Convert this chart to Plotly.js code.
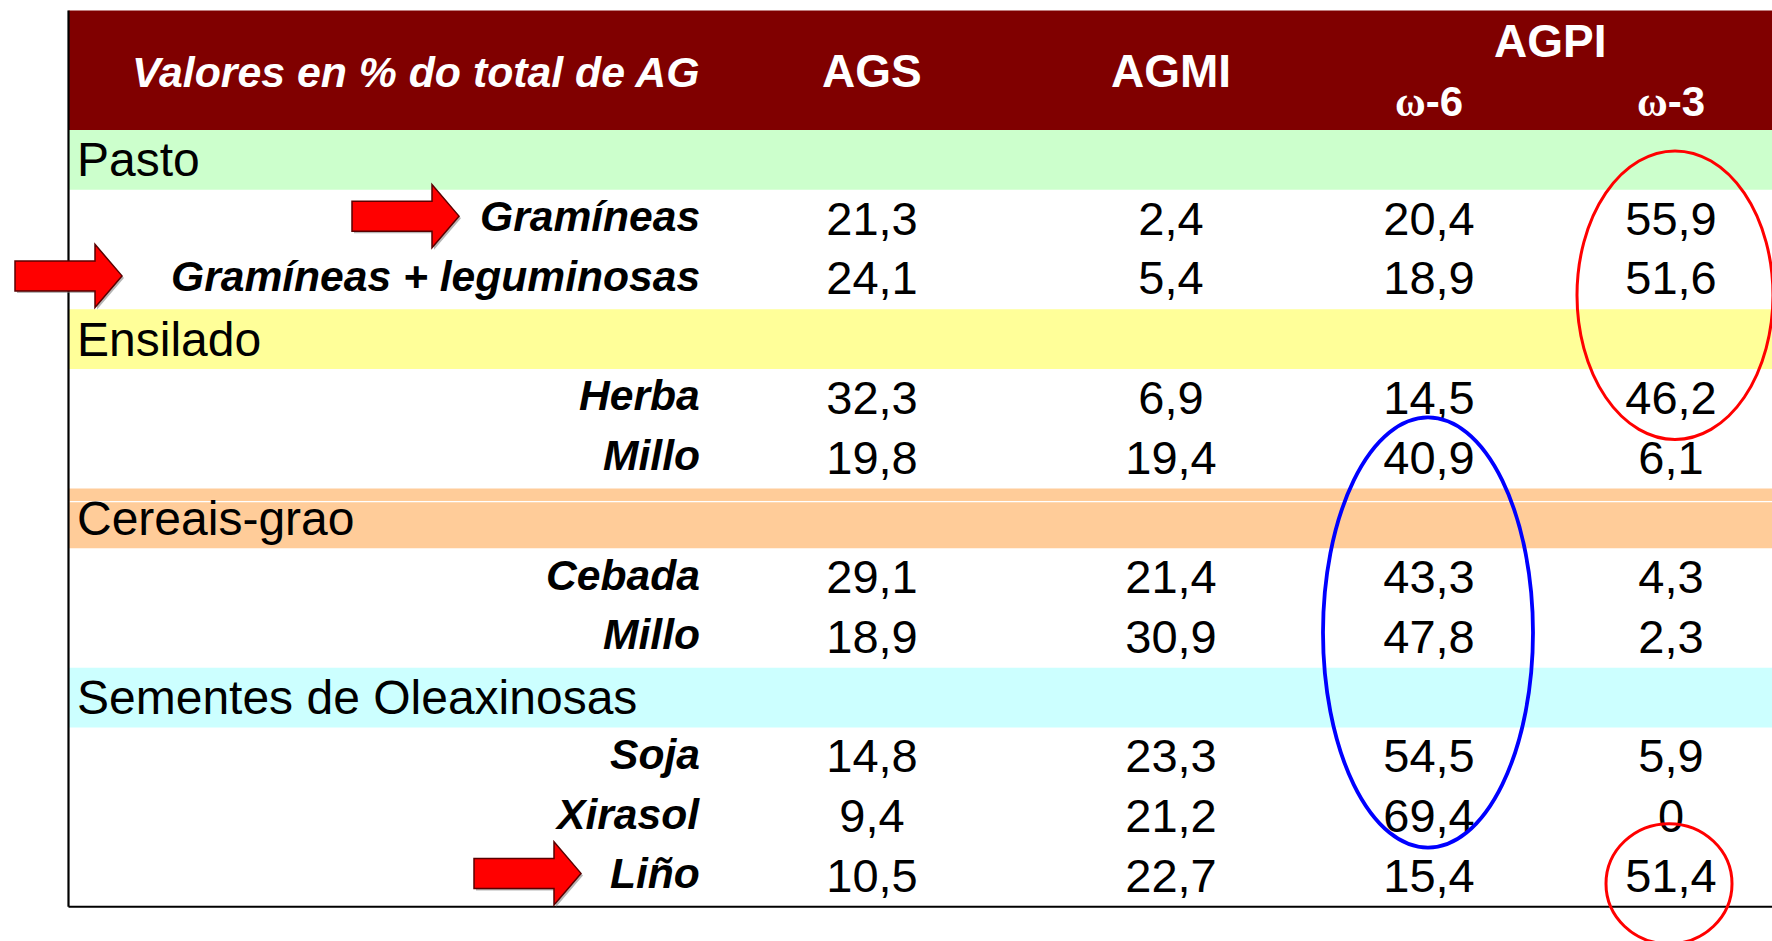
<!DOCTYPE html>
<html>
<head>
<meta charset="utf-8">
<script src="https://cdn.plot.ly/plotly-3.0.1.min.js"></script>
<style>html,body{margin:0;padding:0;background:#fff;overflow:hidden}#chart{width:1772px;height:941px}</style>
</head>
<body>
<div id="chart"></div>
<script>
// ---- data ----
const groups = ["Pasto", "Ensilado", "Cereais-grao", "Sementes de Oleaxinosas"];
const groupItems = [
  ["Gramíneas", "Gramíneas + leguminosas"],
  ["Herba", "Millo"],
  ["Cebada", "Millo"],
  ["Soja", "Xirasol", "Liño"]
];
const headerLabel = "Valores en % do total de AG";
const columns = ["AGS", "AGMI", "ω-6", "ω-3"];
const superHeader = "AGPI";
const ags  = [21.3, 24.1, 32.3, 19.8, 29.1, 18.9, 14.8, 9.4, 10.5];
const agmi = [2.4, 5.4, 6.9, 19.4, 21.4, 30.9, 23.3, 21.2, 22.7];
const w6   = [20.4, 18.9, 14.5, 40.9, 43.3, 47.8, 54.5, 69.4, 15.4];
const w3   = [55.9, 51.6, 46.2, 6.1, 4.3, 2.3, 5.9, 0, 51.4];
const arrowItems = ["Gramíneas", "Gramíneas + leguminosas", "Liño"];

// ---- layout / style constants ----
const W = 1772, H = 941;
const HEADER_TOP = 10.6, BODY_TOP = 130, ROW_H = 59.75;
const LEFT = 68.5;
const LABEL_RIGHT = 701.5;
const GROUP_LEFT = 75;
const COL_X = [872, 1171, 1429, 1671];
const groupColors = ["#CCFFCC", "#FFFF99", "#FFCC99", "#CCFFFF"];
const HEADER_COLOR = "#800000";
const FONT = "Liberation Sans, Arial, sans-serif";
const LABEL_DY = -3.5, VALUE_DY = 3.2;

const fmt = v => v === 0 ? "0" : v.toFixed(1).replace(".", ",");
const rowCenter = r => BODY_TOP + (r + 0.5) * ROW_H;
const omega = s => s.replace("ω", '<span style="font-family:Liberation Serif, serif">ω</span>');

// build rows
const rows = [];
let k = 0;
groups.forEach((g, gi) => {
  rows.push({type: "group", name: g, color: groupColors[gi]});
  groupItems[gi].forEach(it => { rows.push({type: "item", name: it, idx: k}); k++; });
});
const series = [ags, agmi, w6, w3];

const shapes = [];
const annotations = [];

// header band
shapes.push({type: "rect", xref: "x", yref: "y", x0: LEFT, x1: W + 5, y0: HEADER_TOP, y1: BODY_TOP,
  fillcolor: HEADER_COLOR, line: {width: 0}, layer: "below"});

// group bands
rows.forEach((r, i) => {
  if (r.type === "group") {
    shapes.push({type: "rect", xref: "x", yref: "y", x0: LEFT, x1: W + 5,
      y0: BODY_TOP + i * ROW_H, y1: BODY_TOP + (i + 1) * ROW_H,
      fillcolor: r.color, line: {width: 0}, layer: "below"});
  }
});
// thin white line inside the Cereais-grao band
const cerIdx = rows.findIndex(r => r.name === "Cereais-grao");
shapes.push({type: "line", xref: "x", yref: "y", x0: LEFT + 1, x1: W + 5,
  y0: BODY_TOP + (cerIdx + 0.22) * ROW_H, y1: BODY_TOP + (cerIdx + 0.22) * ROW_H,
  line: {color: "#ffffff", width: 1.2}, layer: "below"});

// table borders (left + bottom)
const bottom = BODY_TOP + rows.length * ROW_H;
shapes.push({type: "line", xref: "x", yref: "y", x0: LEFT, x1: LEFT, y0: HEADER_TOP, y1: bottom,
  line: {color: "#000", width: 2.2}});
shapes.push({type: "line", xref: "x", yref: "y", x0: LEFT, x1: W + 5, y0: bottom, y1: bottom,
  line: {color: "#000", width: 2.2}});

// header texts
annotations.push({x: LABEL_RIGHT, y: 72, xref: "x", yref: "y", xanchor: "right", yanchor: "middle",
  text: "<b><i>" + headerLabel + "</i></b>", showarrow: false, font: {family: FONT, size: 42.8, color: "#fff"}});
[0, 1].forEach(c => annotations.push({x: COL_X[c], y: 71, xref: "x", yref: "y", xanchor: "center", yanchor: "middle",
  text: "<b>" + columns[c] + "</b>", showarrow: false, font: {family: FONT, size: 46, color: "#fff"}}));
annotations.push({x: (COL_X[2] + COL_X[3]) / 2, y: 41, xref: "x", yref: "y", xanchor: "center", yanchor: "middle",
  text: "<b>" + superHeader + "</b>", showarrow: false, font: {family: FONT, size: 46, color: "#fff"}});
[2, 3].forEach(c => annotations.push({x: COL_X[c], y: 101, xref: "x", yref: "y", xanchor: "center", yanchor: "middle",
  text: "<b>" + omega(columns[c]) + "</b>", showarrow: false, font: {family: FONT, size: 42, color: "#fff"}}));

// row labels
rows.forEach((r, i) => {
  if (r.type === "group") {
    annotations.push({x: GROUP_LEFT, y: rowCenter(i), xref: "x", yref: "y", xanchor: "left", yanchor: "middle",
      text: r.name, showarrow: false, font: {family: FONT, size: 48, color: "#000"}});
  } else {
    annotations.push({x: LABEL_RIGHT, y: rowCenter(i) + LABEL_DY, xref: "x", yref: "y", xanchor: "right", yanchor: "middle",
      text: "<b><i>" + r.name + "</i></b>", showarrow: false, font: {family: FONT, size: 42.6, color: "#000"}});
  }
});

// value traces
const traces = series.map((s, c) => {
  const xs = [], ys = [], ts = [];
  rows.forEach((r, i) => {
    if (r.type === "item") { xs.push(COL_X[c]); ys.push(rowCenter(i) + VALUE_DY); ts.push(fmt(s[r.idx])); }
  });
  return {type: "scatter", mode: "text", x: xs, y: ys, text: ts, textposition: "middle center",
    textfont: {family: FONT, size: 47, color: "#000"}, hoverinfo: "skip", showlegend: false, cliponaxis: false};
});

// arrows
function arrowPath(tipX, cy) {
  const headLen = 27, shaftLen = 80, sh = 15, hh = 31.5;
  const bx = tipX - headLen, sx = bx - shaftLen;
  return `M${sx},${cy - sh} L${bx},${cy - sh} L${bx},${cy - hh} L${tipX},${cy} L${bx},${cy + hh} L${bx},${cy + sh} L${sx},${cy + sh} Z`;
}
const arrowTips = {"Gramíneas": 459, "Gramíneas + leguminosas": 122, "Liño": 581};
rows.forEach((r, i) => {
  if (r.type === "item" && arrowItems.includes(r.name)) {
    const cy = rowCenter(i) - 3.5;
    const tx = arrowTips[r.name];
    shapes.push({type: "path", xref: "x", yref: "y", path: arrowPath(tx + 2, cy + 2),
      fillcolor: "rgba(120,120,120,0.55)", line: {width: 0}});
    shapes.push({type: "path", xref: "x", yref: "y", path: arrowPath(tx, cy),
      fillcolor: "#FF0000", line: {color: "#5a0000", width: 1.5}});
  }
});

// ellipses (highlights)
function ellipse(rFrom, rTo, padTop, padBot, cx, rx, color, w) {
  const y0 = BODY_TOP + (rFrom + padTop) * ROW_H, y1 = BODY_TOP + (rTo + 1 + padBot) * ROW_H;
  shapes.push({type: "circle", xref: "x", yref: "y", x0: cx - rx, x1: cx + rx, y0: y0, y1: y1,
    line: {color: color, width: w}, fillcolor: "rgba(0,0,0,0)"});
}
ellipse(1, 4, -0.65, 0.18, COL_X[3] + 4, 98, "#FF0000", 3);
ellipse(5, 11, -0.19, 0.01, COL_X[2] - 1, 105, "#0000FF", 3.8);
ellipse(12, 12, -0.39, 0.62, COL_X[3] - 2, 63, "#FF0000", 3);

const layout = {
  width: W, height: H, autosize: false,
  margin: {l: 0, r: 0, t: 0, b: 0, pad: 0},
  paper_bgcolor: "#fff", plot_bgcolor: "#fff",
  xaxis: {range: [0, W], visible: false, fixedrange: true},
  yaxis: {range: [H, 0], visible: false, fixedrange: true},
  shapes: shapes, annotations: annotations, showlegend: false
};
Plotly.newPlot("chart", traces, layout, {displayModeBar: false, staticPlot: true});
</script>
</body>
</html>
